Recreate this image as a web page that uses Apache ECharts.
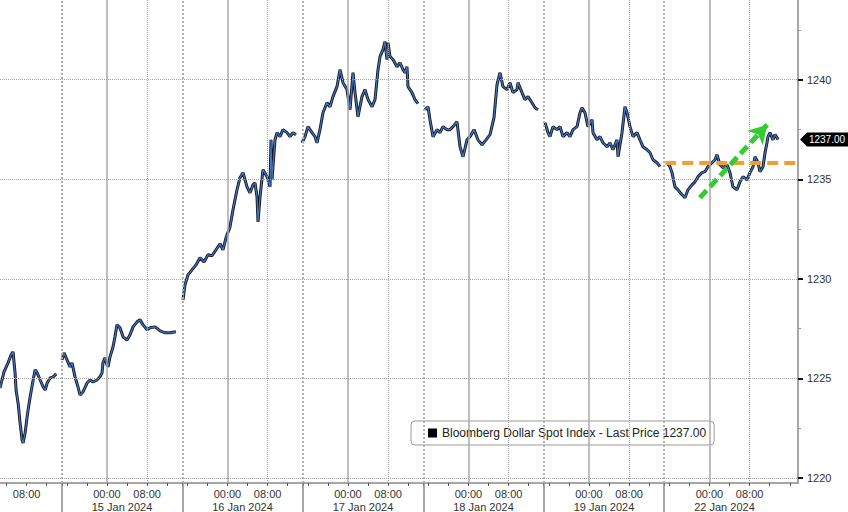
<!DOCTYPE html>
<html><head><meta charset="utf-8">
<script src="https://cdn.jsdelivr.net/npm/echarts@6/dist/echarts.min.js"></script>
<style>html,body{margin:0;padding:0;background:#fff}#c{width:848px;height:512px}</style>
</head><body><div id="c"></div>
<script>
// x values: hours on a compressed trading-time axis (weekend removed), 15 Jan 00:00 = 24
const seriesName = 'Bloomberg Dollar Spot Index';
const lastPrice = 1237.00;

const jan12 = [[2.7,1224.52],[3.5,1225.33],[4.3,1225.78],[4.9,1226.18],[5.3,1226.33],[5.7,1225.28],[5.9,1224.42],[6.3,1223.77],[6.7,1222.77],[7.1,1221.91],[7.3,1221.76],[7.7,1222.26],[8.1,1223.07],[8.3,1223.42],[8.7,1224.07],[9.3,1224.92],[9.7,1225.43],[10.1,1225.28],[10.7,1224.92],[11.3,1224.57],[11.7,1224.42],[12.1,1224.77],[12.7,1225.03],[13.3,1225.08],[13.9,1225.23]];
const jan15 = [[15.05,1225.93],[15.45,1226.28],[16.05,1225.93],[16.65,1225.58],[17.05,1225.78],[17.64,1225.08],[18.24,1224.57],[18.63,1224.17],[19.23,1224.32],[20.03,1224.77],[20.63,1224.92],[21.22,1224.82],[22.02,1224.92],[22.62,1225.08],[23.02,1225.28],[23.21,1225.78],[23.61,1226.03],[24.01,1225.68],[24.21,1225.58],[24.61,1226.08],[25.21,1226.58],[25.6,1227.09],[26.0,1227.69],[26.6,1227.54],[27.2,1227.09],[28.0,1226.93],[28.6,1227.19],[29.2,1227.59],[30.0,1227.84],[30.6,1227.94],[31.2,1227.69],[32.0,1227.44],[32.6,1227.54],[33.6,1227.59],[34.6,1227.39],[35.6,1227.29],[36.6,1227.29],[37.75,1227.34]];
const jan16 = [[39.15,1228.95],[39.55,1229.70],[40.14,1230.20],[40.94,1230.45],[41.74,1230.70],[42.53,1231.06],[43.33,1230.85],[44.13,1231.21],[44.92,1231.16],[45.72,1231.46],[46.52,1231.76],[47.11,1231.46],[47.71,1232.06],[48.51,1232.61],[49.11,1233.47],[49.9,1234.47],[50.5,1235.08],[51.1,1235.33],[51.9,1234.62],[52.49,1234.32],[53.09,1234.72],[53.49,1234.82],[53.89,1234.12],[54.09,1232.86],[54.49,1234.12],[55.08,1235.48],[55.88,1235.13],[56.48,1234.62],[56.68,1236.98],[56.87,1234.97],[57.47,1236.98],[57.87,1237.34],[58.47,1237.14],[59.06,1237.49],[59.86,1237.34],[60.46,1237.14],[61.06,1237.34],[61.65,1237.24]];
const jan17 = [[62.85,1236.83],[63.45,1237.14],[64.04,1237.64],[64.84,1237.34],[65.44,1237.14],[65.84,1236.83],[66.43,1237.49],[67.03,1238.34],[67.83,1238.84],[68.43,1238.64],[69.02,1239.15],[69.82,1239.65],[70.42,1240.50],[71.02,1239.85],[71.81,1239.50],[72.41,1238.49],[73.01,1240.35],[73.41,1239.35],[74.0,1238.14],[74.8,1239.15],[75.4,1239.50],[76.0,1239.0],[76.8,1238.64],[77.39,1239.0],[77.99,1240.50],[78.39,1241.16],[78.98,1241.51],[79.38,1241.91],[79.78,1241.01],[79.98,1241.86],[80.38,1241.16],[80.97,1241.01],[81.77,1240.65],[82.37,1240.85],[82.97,1240.50],[83.36,1240.35],[83.76,1240.65],[83.96,1239.65],[84.76,1239.35],[85.35,1239.0],[85.95,1238.8]];
const jan18 = [[87.35,1238.49],[87.95,1238.64],[88.34,1237.99],[88.94,1237.14],[89.74,1237.49],[90.34,1237.34],[90.93,1237.64],[91.73,1237.49],[92.33,1237.49],[92.93,1237.64],[93.72,1237.89],[94.32,1236.63],[94.92,1236.13],[95.71,1236.98],[96.31,1237.14],[97.11,1237.49],[97.9,1236.98],[98.7,1236.73],[99.5,1236.98],[100.3,1237.24],[101.09,1238.09],[101.69,1239.75],[102.29,1240.35],[102.88,1239.65],[103.68,1239.50],[104.28,1239.85],[104.87,1239.35],[105.67,1239.50],[105.87,1239.85],[106.67,1239.35],[107.26,1239.0],[107.86,1239.15],[108.66,1238.84],[109.26,1238.59],[109.85,1238.49]];
const jan19 = [[111.25,1237.84],[111.85,1237.34],[112.24,1237.14],[112.84,1237.64],[113.64,1237.49],[114.24,1237.64],[114.83,1237.14],[115.63,1237.34],[116.23,1237.14],[116.83,1237.49],[117.62,1237.64],[118.22,1238.34],[118.62,1238.59],[119.21,1238.34],[119.81,1237.64],[120.61,1237.99],[120.81,1237.34],[121.6,1236.98],[122.2,1237.14],[122.8,1236.83],[123.6,1236.63],[124.19,1236.83],[124.79,1236.48],[125.59,1236.98],[125.79,1236.13],[126.59,1237.34],[127.18,1238.64],[127.58,1238.34],[128.18,1237.64],[128.78,1237.14],[129.57,1237.34],[130.17,1236.98],[130.77,1236.63],[131.57,1236.48],[132.16,1236.33],[132.76,1235.98],[133.56,1235.83],[134.15,1235.63]];
const jan22 = [[135.55,1235.83],[136.14,1235.63],[136.54,1235.33],[137.14,1234.62],[137.74,1234.47],[138.53,1234.22],[139.13,1234.07],[139.73,1234.47],[140.52,1234.72],[141.12,1234.87],[141.72,1235.13],[142.52,1235.33],[143.11,1235.38],[143.71,1235.63],[144.51,1235.83],[145.11,1235.98],[145.5,1236.23],[146.1,1235.73],[146.7,1235.58],[147.5,1235.73],[148.1,1235.33],[148.69,1234.62],[149.49,1234.47],[150.09,1234.87],[150.69,1235.13],[151.48,1234.97],[152.08,1235.33],[152.68,1235.63],[153.08,1236.13],[153.67,1235.83],[154.07,1235.38],[154.67,1235.63],[155.07,1236.33],[155.46,1236.83],[155.66,1237.14],[156.06,1237.34],[156.66,1236.98],[157.06,1237.24],[157.45,1237.09],[157.66,1237.00]];

const sessionBreaks = [15, 39, 63, 87, 111, 135];
const midnights = [24, 48, 72, 96, 120, 144];
const mornings = [32, 56, 80, 104, 128, 152];
const hourTicks = [4,8,12,15,16,20,24,28,32,36,39,40,44,48,52,56,60,63,64,68,72,76,80,84,87,88,92,96,100,104,108,111,112,116,120,124,128,132,135,136,140,144,148,152,156,160];
const timeTicks = [8, 24, 32, 48, 56, 72, 80, 96, 104, 120, 128, 144, 152];
const timeLabels = ['08:00','00:00','08:00','00:00','08:00','00:00','08:00','00:00','08:00','00:00','08:00','00:00','08:00'];
const dateTicks = [27, 51, 75, 99, 123, 147];
const dateLabels = ['15 Jan 2024','16 Jan 2024','17 Jan 2024','18 Jan 2024','19 Jan 2024','22 Jan 2024'];
const yTicks = [1220, 1225, 1230, 1235, 1240];
const yMinorTicks = [1222.5, 1227.5, 1232.5, 1237.5, 1242.5];
const supportLevel = [[135.2, 1235.82], [161.64, 1235.82]];
const trendArrow = [[142.1, 1234.07], [155.5, 1237.74]];

const xMin = 2.7, xMax = 161.64, yMin = 1219.75, yMax = 1244.0;

const days = [jan12, jan15, jan16, jan17, jan18, jan19, jan22];
const priceData = [];
days.forEach((d, i) => {
  if (i > 0) priceData.push([sessionBreaks[i - 1], null]);
  d.forEach(p => priceData.push(p));
});

const FONT = 'Liberation Sans';
const chart = echarts.init(document.getElementById('c'), null, {renderer: 'svg'});
const gridLines = []
  .concat(midnights.map(v => ({xAxis: v, lineStyle: {color: '#a8a8a8', width: 1.5, type: 'solid'}})))
  .concat(mornings.map(v => ({xAxis: v, lineStyle: {color: '#a0a0a0', width: 1, type: 'dotted'}})))
  .concat(sessionBreaks.map(v => ({xAxis: v, lineStyle: {color: '#b0b0b0', width: 2, type: 'dotted'}})));
// horizontal dotted grid lines at the labelled price levels
yTicks.forEach(v => gridLines.push({yAxis: v, lineStyle: {color: '#a0a0a0', width: 1, type: 'dotted'}}));

chart.setOption({
  animation: false,
  textStyle: {fontFamily: FONT},
  grid: {left: 0, right: 50, top: 0, bottom: 29, containLabel: false},
  legend: {
    data: [seriesName], left: 411, top: 421, orient: 'horizontal',
    padding: [6, 8, 6, 17], itemWidth: 9, itemHeight: 9, itemGap: 4, icon: 'rect',
    backgroundColor: '#fff', borderColor: '#9a9a9a', borderWidth: 1, borderRadius: 4,
    textStyle: {fontSize: 12, color: '#222', fontFamily: FONT},
    formatter: n => n + ' - Last Price ' + lastPrice.toFixed(2)
  },
  xAxis: [
    {type: 'value', min: xMin, max: xMax, position: 'bottom',
     axisLine: {show: true, onZero: false, lineStyle: {color: '#8a8a8a', width: 1.5}},
     axisTick: {show: true, customValues: hourTicks, length: 3, lineStyle: {color: '#555'}},
     axisLabel: {show: true, customValues: timeTicks, margin: 5, fontSize: 11, color: '#333',
                 formatter: v => timeLabels[timeTicks.indexOf(v)]},
     splitLine: {show: false}},
    {type: 'value', min: xMin, max: xMax, position: 'bottom',
     axisLine: {show: false, onZero: false},
     axisTick: {show: true, customValues: sessionBreaks, length: 30, lineStyle: {color: '#8a8a8a', width: 1.5}},
     axisLabel: {show: true, customValues: dateTicks, margin: 18, fontSize: 11, color: '#333',
                 formatter: v => dateLabels[dateTicks.indexOf(v)]},
     splitLine: {show: false}}
  ],
  yAxis: [
    {type: 'value', position: 'right', min: yMin, max: yMax,
     axisLine: {show: true, onZero: false, lineStyle: {color: '#8a8a8a', width: 1.5}},
     axisTick: {show: true, customValues: yTicks, length: 5, lineStyle: {color: '#111', width: 2}},
     axisLabel: {show: true, customValues: yTicks, margin: 9, fontSize: 11, color: '#333',
                 formatter: v => String(v)},
     splitLine: {show: false}},
    {type: 'value', position: 'right', min: yMin, max: yMax,
     axisLine: {show: false},
     axisTick: {show: true, customValues: yMinorTicks, length: 3, lineStyle: {color: '#999'}},
     axisLabel: {show: false}, splitLine: {show: false}}
  ],
  series: [
    {type: 'line', name: 'grid', data: [], z: 1, silent: true,
     markLine: {silent: true, symbol: 'none', label: {show: false}, animation: false, data: gridLines}},
    {type: 'line', name: seriesName, data: priceData, showSymbol: false, connectNulls: false, z: 3,
     itemStyle: {color: '#000'}, lineStyle: {color: '#151a22', width: 3}},
    {type: 'line', name: 'overlay', data: priceData, showSymbol: false, connectNulls: false, z: 4,
     itemStyle: {color: '#3d6db5'}, lineStyle: {color: '#4474c0', width: 1.2},
     markPoint: {silent: true, animation: false,
       symbol: 'path://M0,7 L7,0 L48,0 L48,14 L7,14 Z', symbolSize: [48, 14], symbolOffset: [26, 0],
       itemStyle: {color: '#000'},
       label: {show: true, color: '#fff', fontSize: 10, offset: [3, 0], formatter: () => lastPrice.toFixed(2)},
       data: [{coord: [xMax, lastPrice]}]}},
    {type: 'line', name: 'annotations', data: [], z: 6, silent: true,
     markLine: {silent: true, animation: false, label: {show: false},
       data: [
         [{coord: supportLevel[0], symbol: 'none', lineStyle: {color: '#f0a030', width: 4, type: [11, 6]}},
          {coord: supportLevel[1], symbol: 'none'}],
         [{coord: trendArrow[0], symbol: 'none', lineStyle: {color: '#33cc33', width: 5, type: [10, 5]}},
          {coord: trendArrow[1], symbol: 'arrow', symbolSize: [16, 18]}]
       ]}}
  ]
});
</script>
</body></html>
